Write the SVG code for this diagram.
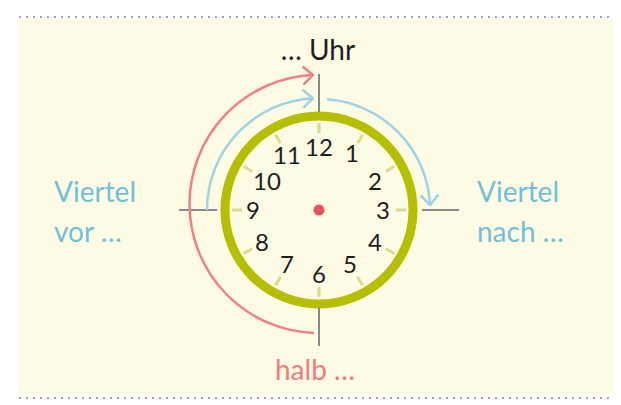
<svg xmlns="http://www.w3.org/2000/svg" width="621" height="405" viewBox="0 0 621 405">
<defs>
<style>
.lbl{font-family:Lato,"Open Sans","DejaVu Sans",sans-serif;font-size:28px}
.num{font-family:Lato,"Open Sans","DejaVu Sans",sans-serif;font-size:24px;fill:#1e1e1e;text-anchor:middle}
.dots{stroke:#8f8f8f;stroke-width:2.2;stroke-linecap:round;stroke-dasharray:0 7}
.tick{stroke:#D9DB8E;stroke-width:3}
.cross{stroke:#8a8a8a;stroke-width:2}
.blue{fill:none;stroke:#9ED3E6;stroke-width:2.5}
.red{fill:none;stroke:#F08083;stroke-width:2.5}
</style>
<marker id="ab" viewBox="0 0 12 20" refX="11" refY="10" markerWidth="12" markerHeight="20" markerUnits="userSpaceOnUse" orient="auto">
<path d="M1,1 L11,10 L1,19" fill="none" stroke="#9ED3E6" stroke-width="2.5"/>
</marker>
<marker id="ar" viewBox="0 0 12 20" refX="11" refY="10" markerWidth="12" markerHeight="20" markerUnits="userSpaceOnUse" orient="auto">
<path d="M1,1 L11,10 L1,19" fill="none" stroke="#F08083" stroke-width="2.5"/>
</marker>
</defs>
<rect x="19" y="19" width="594" height="375" fill="#FEFBE5"/>
<line class="dots" x1="20" y1="17" x2="614" y2="17"/>
<line class="dots" x1="20" y1="398" x2="614" y2="398"/>

<g id="clock">
<g id="ticks">
<line class="tick" x1="319" y1="123" x2="319" y2="133"/>
<line class="tick" x1="362.5" y1="134.7" x2="357.5" y2="143.3"/>
<line class="tick" x1="394.3" y1="166.5" x2="385.7" y2="171.5"/>
<line class="tick" x1="406" y1="210" x2="396" y2="210"/>
<line class="tick" x1="394.3" y1="253.5" x2="385.7" y2="248.5"/>
<line class="tick" x1="362.5" y1="285.3" x2="357.5" y2="276.7"/>
<line class="tick" x1="319" y1="297" x2="319" y2="287"/>
<line class="tick" x1="275.5" y1="285.3" x2="280.5" y2="276.7"/>
<line class="tick" x1="243.7" y1="253.5" x2="252.3" y2="248.5"/>
<line class="tick" x1="232" y1="210" x2="242" y2="210"/>
<line class="tick" x1="243.7" y1="166.5" x2="252.3" y2="171.5"/>
<line class="tick" x1="275.5" y1="134.7" x2="280.5" y2="143.3"/>
</g>
<circle id="rim" cx="319" cy="210" r="94" fill="none" stroke="#B6BE00" stroke-width="9"/>
<circle id="hub" cx="319" cy="210" r="5.5" fill="#E9505D"/>
<g id="numbers">
<text class="num" x="319" y="156">12</text>
<text class="num" x="352" y="162">1</text>
<text class="num" x="375" y="190">2</text>
<text class="num" x="383" y="219">3</text>
<text class="num" x="375" y="251">4</text>
<text class="num" x="350" y="273">5</text>
<text class="num" x="319" y="283">6</text>
<text class="num" x="287" y="273">7</text>
<text class="num" x="262" y="251">8</text>
<text class="num" x="253" y="219">9</text>
<text class="num" x="267" y="190">10</text>
<text class="num" x="287" y="164">11</text>
</g>
</g>

<g id="connectors">
<line class="cross" x1="319" y1="74" x2="319" y2="112"/>
<line class="cross" x1="319" y1="308" x2="319" y2="346"/>
<line class="cross" x1="179" y1="210" x2="217" y2="210"/>
<line class="cross" x1="422" y1="210" x2="459" y2="210"/>
<path id="blue-left" class="blue" d="M207,210 A112,112 0 0 1 313,98.2" marker-end="url(#ab)"/>
<path id="blue-right" class="blue" d="M327,99.3 A111,111 0 0 1 430,205" marker-end="url(#ab)"/>
<path id="red-arc" class="red" d="M314,332.9 A129,129 0 0 1 313,75.1" marker-end="url(#ar)"/>
</g>

<g id="label-uhr"><text class="lbl" x="318" y="60" text-anchor="middle" fill="#1e1e1e">… Uhr</text></g>
<g id="label-vor"><text class="lbl" fill="#6FC1D7"><tspan x="54" y="202">Viertel</tspan><tspan x="54" y="242">vor …</tspan></text></g>
<g id="label-nach"><text class="lbl" fill="#6FC1D7"><tspan x="477" y="202">Viertel</tspan><tspan x="477" y="242">nach …</tspan></text></g>
<g id="label-halb"><text class="lbl" x="275" y="380" fill="#F07C7E">halb …</text></g>
</svg>
